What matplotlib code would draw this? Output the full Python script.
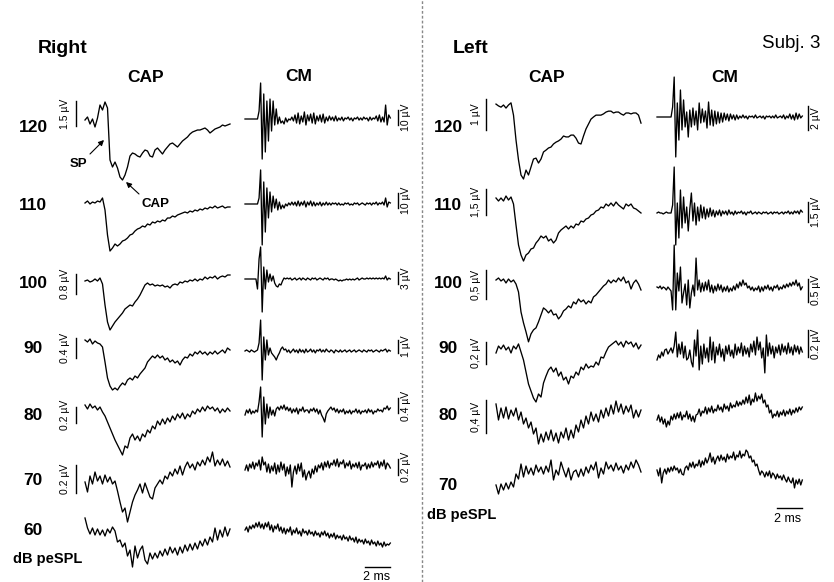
import numpy as np
import matplotlib
matplotlib.use('Agg')
import matplotlib.pyplot as plt
from matplotlib.lines import Line2D

plt.rcParams['font.family'] = ['Liberation Sans', 'DejaVu Sans']

# ---------------------------------------------------------------
# data (uV), CAP traces sampled every 0.2 ms, CM every 0.125 ms
levels_right = ['120', '110', '100', '90', '80', '70', '60']
levels_left = ['120', '110', '100', '90', '80', '70']

cap_r120 = [0, 0.18, -0.24, 0.06, -0.42, 0.12, 0.9, 0.6, 1.08, 0.72, -2.4, -2.82, -2.52, -2.88, -3.42, -3.6, -3.3, -2.82, -2.16, -1.98,
            -2.04, -2.16, -2.22, -1.98, -1.8, -1.86, -2.16, -2.22, -1.8, -1.68, -1.86, -2.04, -1.8, -1.62, -1.44, -1.38, -1.5, -1.62, -1.44, -1.26,
            -1.14, -1.02, -0.84, -0.72, -0.66, -0.6, -0.6, -0.54, -0.48, -0.6, -0.78, -0.66, -0.54, -0.48, -0.42, -0.3, -0.36, -0.3, -0.24]
cap_r110 = [0, 0.12, -0.06, 0.06, 0, 0.12, 0.06, 0.3, -0.42, -1.92, -2.88, -2.7, -2.46, -2.58, -2.46, -2.28, -2.22, -2.1, -1.92, -1.86,
            -1.68, -1.56, -1.5, -1.38, -1.44, -1.26, -1.32, -1.14, -1.2, -1.08, -1.14, -1.02, -1.08, -0.9, -0.9, -0.78, -0.84, -0.72, -0.66, -0.6,
            -0.54, -0.6, -0.48, -0.54, -0.42, -0.48, -0.36, -0.42, -0.3, -0.36, -0.24, -0.3, -0.18, -0.3, -0.24, -0.18, -0.3, -0.24, -0.24]
cap_r100 = [0, 0.04, -0.04, 0, 0.08, 0, 0.12, -0.12, -0.96, -1.64, -1.96, -1.8, -1.64, -1.52, -1.4, -1.28, -1.12, -1.04, -0.96, -1.0,
            -0.84, -0.72, -0.56, -0.36, -0.16, -0.08, -0.16, -0.12, -0.2, -0.16, -0.2, -0.16, -0.24, -0.2, -0.28, -0.16, -0.12, -0.16, -0.04, -0.08,
            0, -0.04, 0.04, 0, 0.08, 0, 0.08, 0.04, 0.16, 0.08, 0.16, 0.12, 0.2, 0.08, 0.16, 0.2, 0.16, 0.24, 0.24]
cap_r90 = [0.04, 0, 0.06, -0.04, 0.02, -0.02, -0.04, -0.1, -0.4, -0.72, -0.88, -0.96, -0.92, -0.96, -0.88, -0.82, -0.86, -0.76, -0.72, -0.76,
           -0.68, -0.72, -0.64, -0.58, -0.52, -0.4, -0.34, -0.28, -0.32, -0.26, -0.32, -0.28, -0.36, -0.32, -0.4, -0.36, -0.42, -0.38, -0.46, -0.36,
           -0.3, -0.32, -0.24, -0.28, -0.2, -0.24, -0.18, -0.24, -0.2, -0.26, -0.2, -0.24, -0.18, -0.24, -0.2, -0.16, -0.22, -0.12, -0.16]
cap_r80 = [0.024, -0.024, 0.036, -0.012, 0.012, -0.036, 0, -0.06, -0.108, -0.18, -0.252, -0.324, -0.396, -0.456, -0.516, -0.576, -0.468, -0.492, -0.372, -0.324,
           -0.396, -0.348, -0.408, -0.324, -0.36, -0.276, -0.312, -0.228, -0.264, -0.168, -0.216, -0.144, -0.204, -0.132, -0.18, -0.108, -0.156, -0.084, -0.132, -0.072,
           -0.144, -0.084, -0.12, -0.048, -0.084, -0.024, -0.06, 0, -0.048, 0.012, -0.024, 0, -0.048, -0.012, -0.072, -0.024, -0.06, -0.012, -0.048]
cap_r70 = [-0.014, -0.084, 0.028, -0.028, 0.056, -0.007, 0.028, -0.028, 0.035, -0.014, 0.021, -0.028, -0.007, -0.077, -0.154, -0.224, -0.196, -0.294, -0.224, -0.154,
           -0.105, -0.07, -0.028, -0.091, -0.021, -0.07, -0.119, -0.133, -0.056, -0.028, 0, -0.028, 0.028, 0.007, 0.056, 0.028, 0.077, 0.042, 0.098, 0.035,
           0.091, 0.126, 0.084, 0.112, 0.07, 0.126, 0.098, 0.14, 0.105, 0.161, 0.126, 0.196, 0.098, 0.14, 0.105, 0.147, 0.098, 0.133, 0.091]
cap_r60 = [0.084, 0.014, -0.028, 0.014, -0.035, 0.007, -0.035, 0, -0.042, 0.007, -0.021, 0.021, -0.007, -0.084, -0.07, -0.119, -0.091, -0.182, -0.14, -0.259,
           -0.112, -0.196, -0.14, -0.112, -0.21, -0.238, -0.161, -0.203, -0.161, -0.196, -0.147, -0.182, -0.133, -0.175, -0.119, -0.161, -0.126, -0.175, -0.119, -0.161,
           -0.105, -0.147, -0.098, -0.14, -0.091, -0.133, -0.077, -0.112, -0.063, -0.105, -0.049, -0.084, 0.014, -0.07, 0, -0.049, 0.021, -0.042, 0.007]

cm_r120 = [0, 0, 0, 0, 0, 0, 0, 0, 0, 5.3, 24.0, -26.7, 16.7, -22.0, 12.0, -14.7, 13.3, -8.0, 12.0, -4.0,
           6.7, -3.3, 1.3, -2.7, -1.3, -3.3, 0.7, -2.0, 0.0, -0.7, 1.3, -1.3, 2.7, -2.7, 4.0, -3.3, 2.0, -2.0, 4.7, -4.0,
           2.7, -1.3, 3.3, -2.7, 4.0, -3.3, 2.0, -1.3, 2.7, -2.0, 3.3, -2.7, 1.3, -1.3, 2.0, -0.7, 1.3, -1.3, 2.0, -1.3,
           0.7, -0.7, 1.3, -1.3, 0.7, 0.0, 1.3, -0.7, 0.7, -1.3, 0.7, 0.0, 1.3, -0.7, 0.7, -0.7, 1.3, 0.0, 0.7, -1.3,
           1.3, -0.7, 0.7, 0.0, 2.0, -1.3, 2.7, -2.0, 1.3, -2.0, 9.3, -4.0, 2.7, 0.7]
cm_r110 = [0, 0, 0, 0, 0, 0, 0, 0, 0, 4.0, 22.7, -27.3, 14.7, -18.7, 10.7, -9.3, 8.0, -5.3, 5.3, -2.7,
           3.3, -4.0, 1.3, -3.3, -0.7, -2.7, 0, -1.3, 0.7, -0.7, 1.3, -0.7, 1.3, -1.3, 2.0, -1.3, 1.3, -0.7, 2.0, -2.0,
           1.3, -0.7, 2.0, -1.3, 1.3, -1.3, 0.7, -0.7, 1.3, -1.3, 0.7, -0.7, 1.3, -0.7, 0.7, -0.7, 0.7, 0, 0.7, -0.7,
           0.7, -0.7, 0, -0.7, 0.7, 0, 0.7, -0.7, 0, -0.7, 0.7, 0, 0.7, -0.7, 0, 0.7, 0, -0.7, 0.7, 0,
           0.7, -0.7, 0.7, 0, 1.3, -0.7, 0.7, 0, 1.3, -0.7, 4.0, -2.0, 1.3, 0.7]
cm_r100 = [0, 0, 0, 0, 0, 0, 0, 0, -2.5, 5.0, 8.0, -8.25, 3.0, -2.5, 2.25, -0.75, 1.25, -0.5, 0.75, -1.0,
           -1.75, -2.0, -1.25, -1.5, -0.5, 0.25, 0, 0.25, 0, 0.25, -0.25, 0, 0.25, -0.25, 0, 0.25, -0.25, 0.25, 0, -0.25,
           0.25, 0, -0.25, 0.25, 0, 0.25, -0.25, 0, 0.25, 0, -0.25, 0.25, 0, 0.25, -0.25, 0, 0, -0.25, 0, -0.25,
           -0.5, -0.25, -0.5, -0.25, -0.25, 0, -0.25, 0, -0.25, 0, -0.25, 0, 0.25, -0.25, 0, 0.25, 0, 0, 0.25, 0,
           0.25, 0, 0.25, 0, 0.25, 0, 0.25, 0, 0.25, 0, 0.75, -0.25, 0.25, 0]
cm_r90 = [0, 0.08, 0, -0.08, 0.08, 0, -0.08, 0, 0.08, 0.62, 2.38, -2.23, 1.08, -0.69, 0.85, -0.31, 0.23, -0.15, -0.31, -0.46,
          -0.69, -0.38, -0.15, 0.15, 0.31, 0.08, 0.15, -0.08, 0.08, -0.15, 0, 0.15, -0.08, 0.08, -0.15, 0.15, -0.08, 0.08, -0.15, 0.15,
          -0.08, 0, 0.15, -0.08, 0.08, -0.15, 0.08, 0, 0.15, -0.08, 0.08, -0.08, 0.15, 0, -0.08, 0.08, 0, -0.15, 0.08, 0,
          -0.08, 0.08, -0.08, 0, 0.08, -0.08, 0, 0.08, -0.08, 0, 0.08, -0.08, 0, 0.08, 0, -0.08, 0.08, 0, -0.08, 0.08,
          0, 0.08, -0.08, 0, 0.08, 0, -0.08, 0.08, 0, 0.08, 0.15, -0.08, 0.08, 0]
cm_r80 = [-0.08, 0.053, -0.027, 0.08, -0.053, 0.027, -0.027, 0.053, 0, 0.267, 0.667, -0.667, 0.4, -0.32, 0.213, -0.16, 0.133, -0.08, 0.053, -0.107,
          0.08, 0.133, 0.053, 0.16, 0.08, 0.187, 0.053, 0.133, 0.027, 0.107, -0.027, 0.08, 0, 0.107, -0.053, 0.08, 0.027, 0.133, 0, 0.053,
          0.053, -0.027, 0.08, 0.027, 0.107, 0, 0.08, -0.053, 0.053, -0.08, -0.16, -0.267, -0.053, 0.027, 0.08, 0.133, 0.053, 0.107, 0, 0.08,
          -0.027, 0.053, 0, 0.08, -0.053, 0.027, -0.027, 0.053, -0.053, 0.027, 0, 0.08, -0.027, 0.053, -0.053, 0.027, 0, 0.053, -0.027, 0.08,
          0, 0.053, -0.053, 0.027, 0, 0.08, 0.027, 0.053, 0, 0.107, 0.08, 0.16, 0.053, 0.107]
cm_r70 = [-0.025, 0.038, -0.038, 0.05, 0, 0.075, -0.013, 0.063, 0.025, 0.1, -0.025, 0.138, 0.038, 0.075, -0.05, 0.05, -0.063, 0.025, -0.038, 0.063,
          -0.075, 0.038, -0.05, 0.075, -0.025, 0.05, -0.1, 0.013, -0.075, 0.038, -0.238, -0.05, 0.025, -0.075, 0.05, -0.038, 0.063, -0.113, -0.025, -0.15,
          -0.075, -0.038, -0.125, -0.013, -0.075, 0.025, -0.05, 0.038, 0, 0.063, -0.025, 0.075, 0.013, 0.088, 0, 0.063, 0.038, 0.1, 0.025, 0.113,
          0.013, 0.075, 0.05, 0.1, 0, 0.063, 0.025, 0.088, -0.013, 0.05, 0.013, 0.063, 0, 0.075, -0.025, 0.038, 0.025, 0.063, -0.013, 0.05,
          0, 0.075, 0.013, 0.063, 0.038, 0.088, 0, 0.075, 0.025, 0.1, -0.013, 0.063, 0.038, 0]
cm_r60 = [0, 0.038, -0.025, 0.05, 0.013, 0.063, 0.025, 0.088, 0.038, 0.1, 0.025, 0.075, 0.013, 0.088, 0.038, 0.1, 0, 0.063, -0.025, 0.05,
          0.013, 0.075, -0.013, 0.038, -0.038, 0.025, -0.05, 0.013, -0.025, 0.038, -0.063, 0, -0.038, 0.025, -0.05, -0.013, -0.075, 0.013, -0.038, -0.013,
          -0.063, 0, -0.05, -0.025, -0.075, -0.013, -0.063, -0.038, -0.088, -0.025, -0.063, -0.013, -0.075, -0.038, -0.1, -0.05, -0.088, -0.038, -0.113, -0.063,
          -0.1, -0.075, -0.125, -0.063, -0.113, -0.088, -0.138, -0.075, -0.125, -0.1, -0.15, -0.088, -0.163, -0.113, -0.15, -0.125, -0.175, -0.113, -0.163, -0.138,
          -0.188, -0.125, -0.175, -0.15, -0.2, -0.138, -0.188, -0.163, -0.213, -0.15, -0.2, -0.175, -0.188, -0.163]

cap_l120 = [0.03, -0.03, -0.07, 0, -0.1, 0, 0.07, -0.33, -1.14, -1.79, -2.28, -2.41, -2.12, -2.28, -2.02, -1.76, -1.73, -1.89, -1.76, -1.53,
            -1.47, -1.4, -1.37, -1.27, -1.21, -1.17, -1.11, -1.01, -1.04, -1.04, -0.98, -0.98, -1.08, -1.24, -1.27, -1.01, -0.78, -0.62, -0.46, -0.39,
            -0.33, -0.33, -0.33, -0.29, -0.23, -0.2, -0.2, -0.26, -0.23, -0.23, -0.29, -0.33, -0.26, -0.26, -0.29, -0.26, -0.26, -0.33, -0.59]
cap_l110 = [0.06, -0.12, 0.06, -0.12, 0.18, -0.06, 0.12, -0.3, -1.56, -2.76, -3.36, -3.72, -3.36, -3.24, -3.0, -2.94, -2.64, -2.46, -2.22, -2.34,
            -2.22, -2.52, -2.4, -2.64, -2.46, -2.04, -1.86, -1.74, -1.62, -1.8, -1.62, -1.74, -1.5, -1.56, -1.32, -1.38, -1.2, -1.14, -0.96, -0.9,
            -0.72, -0.66, -0.48, -0.54, -0.3, -0.42, -0.24, -0.42, -0.18, -0.36, -0.48, -0.6, -0.3, -0.42, -0.3, -0.54, -0.6, -0.72, -0.84]
cap_l100 = [0.017, 0.052, 0, 0.034, -0.034, 0.034, -0.017, 0.017, -0.052, -0.189, -0.534, -0.722, -0.877, -1.049, -0.912, -0.843, -0.808, -0.705, -0.585, -0.464,
            -0.499, -0.55, -0.499, -0.585, -0.568, -0.654, -0.602, -0.516, -0.482, -0.43, -0.464, -0.361, -0.396, -0.31, -0.361, -0.327, -0.396, -0.344, -0.378, -0.275,
            -0.241, -0.189, -0.138, -0.086, -0.052, 0.017, -0.034, 0.017, -0.017, 0.052, 0, 0.069, -0.034, 0, -0.138, -0.034, 0.017, -0.052, -0.155]
cap_l90 = [-0.027, 0.036, 0.009, 0.045, 0, 0.027, -0.027, 0.036, 0.009, 0.055, -0.018, -0.091, -0.2, -0.309, -0.373, -0.437, -0.473, -0.4, -0.428, -0.3,
           -0.237, -0.182, -0.155, -0.2, -0.164, -0.237, -0.2, -0.273, -0.246, -0.309, -0.237, -0.255, -0.2, -0.228, -0.155, -0.18, -0.127, -0.164, -0.145, -0.155,
           -0.109, -0.137, -0.064, -0.073, -0.018, 0.027, 0.046, 0.064, 0.082, 0.045, 0.073, 0.027, 0.082, 0.055, 0.073, 0.027, 0.064, 0.009, 0.045]
cap_l80 = [0.096, -0.096, 0.048, -0.072, 0.06, -0.084, 0.024, -0.048, 0.048, -0.096, 0, -0.144, -0.072, -0.192, -0.12, -0.264, -0.192, -0.384, -0.264, -0.36,
           -0.24, -0.336, -0.216, -0.348, -0.252, -0.372, -0.24, -0.312, -0.192, -0.336, -0.216, -0.312, -0.156, -0.24, -0.096, -0.192, -0.048, -0.144, 0, -0.108,
           -0.024, -0.12, 0.024, -0.072, 0.048, -0.048, 0.084, -0.024, 0.132, 0, 0.096, -0.024, 0.072, 0, 0.084, -0.072, 0.024, -0.06, 0.024]
cap_l70 = [-0.06, -0.168, -0.048, -0.12, -0.036, -0.108, -0.024, -0.084, 0.072, 0.012, 0.192, 0.036, 0.168, 0.072, 0.144, 0.06, 0.18, 0.096, 0.156, 0.072,
           0.168, 0.096, 0.24, 0, 0.12, 0.06, 0.216, 0.12, 0.036, 0.144, 0, 0.096, 0.12, 0.036, 0.132, 0.048, 0.156, 0.084, 0.18, 0.12,
           0.216, 0.024, 0.144, 0.072, 0.216, 0.132, 0.18, 0.108, 0.204, 0.12, 0.168, 0.084, 0.18, 0.12, 0.216, 0.144, 0.24, 0.18, 0.096]

cm_l120 = [0, 0, 0, 0, 0, 0, 0, 0, 0, 0, 0.83, 3.33, -3.33, 1.17, -1.92, 2.25, -1.08, 1.42, -0.83, 0.42,
           -1.67, 0.58, -0.83, 0.75, -0.67, 0.5, -1.08, 1.17, -0.5, 0.67, -0.42, 0.5, -0.92, 1.25, -0.67, 0.58, -0.75, 0.5, -0.58, 0.42,
           -0.5, 0.33, -0.42, 0.33, -0.25, 0.25, -0.33, 0.25, -0.17, 0.17, -0.25, 0.17, -0.17, 0.08, -0.08, 0.17, -0.08, 0.08, -0.17, 0.08,
           0, 0.08, -0.08, 0.17, -0.08, 0, 0.08, -0.08, 0.08, -0.17, 0.08, 0, 0.08, -0.08, 0.08, -0.08, 0.17, -0.08, 0, 0.08,
           -0.08, 0.17, -0.17, 0.08, -0.08, 0.25, -0.17, 0.17, -0.25, 0.33, -0.17, 0.25, -0.08, 0.08]
cm_l110 = [0, 0.075, 0, 0, -0.075, 0, 0.075, 0, 0, 0, 0.6, 3.45, -2.4, 0.75, -1.875, 1.725, -1.125, 1.2, -0.75, 0.45,
           -1.35, 0.3, 1.5, -0.6, 0.75, -0.9, 0.45, -0.6, 0.6, -0.375, 0.45, -0.45, 0.3, -0.3, 0.375, -0.225, 0.225, -0.3, 0.15, -0.15,
           0.225, -0.225, 0.15, -0.075, 0.15, -0.15, 0.225, -0.075, 0.075, -0.15, 0.15, -0.075, 0.075, 0, 0.15, -0.075, 0.075, -0.15, 0.075, 0,
           0.15, -0.075, 0, 0.075, -0.075, 0.075, 0, -0.075, 0.075, 0, 0.075, -0.075, 0, 0.075, -0.075, 0.075, 0, 0.075, -0.075, 0,
           0.075, -0.075, 0.075, 0, 0.15, -0.075, 0.075, -0.075, 0.15, 0, 0.15, -0.075, 0.225, 0.075]
cm_l100 = [0.022, 0, 0.043, -0.022, 0.022, 0, -0.043, 0.022, -0.022, -0.065, -0.477, 0.933, -0.477, 0.326, -0.065, 0.456, -0.326, -0.109, 0.087,
           -0.369, 0.174, -0.434, -0.109, 0.065, -0.174, 0.651, -0.043, 0.174, -0.087, 0.109, -0.065, 0.13, -0.043, 0.174, -0.087, 0.065, -0.109, 0.043, -0.065,
           0.087, -0.043, 0.065, -0.087, 0.022, -0.065, 0.043, -0.087, 0, -0.065, 0.043, -0.043, 0.087, 0, 0.13, 0.043, 0.174, 0.065, 0.109, 0,
           0.043, -0.043, 0.022, -0.065, 0, -0.043, 0.043, -0.087, 0.022, -0.065, 0.043, -0.022, 0.065, -0.043, 0.022, -0.065, 0.043, 0, 0.065, -0.043,
           0.022, -0.022, 0.065, 0, 0.087, 0.022, 0.109, 0.043, 0.13, 0.065, 0.174, 0.043, 0.109, -0.043, 0.022]
cm_l90 = [-0.059, -0.022, -0.044, 0, -0.03, 0.015, 0.022, -0.015, 0.007, 0.03, -0.007, 0.044, 0.148, -0.037, 0.059, -0.015, 0.074, -0.044, 0.044, -0.059,
          -0.044, 0.015, -0.074, -0.111, 0.089, -0.03, 0.163, -0.133, 0.044, -0.089, 0.059, -0.044, 0.03, -0.074, 0.111, -0.059, 0.074, -0.081, 0.037, -0.022,
          0.059, -0.037, 0.022, -0.067, 0.044, -0.015, 0.052, -0.03, 0.015, -0.044, 0.059, -0.022, 0.037, -0.007, 0.067, -0.03, 0.044, -0.015, 0.03, -0.037,
          0.059, 0, 0.081, -0.022, 0.111, 0.015, 0.074, -0.044, 0.03, -0.155, 0.126, -0.03, 0.067, -0.015, 0.044, -0.044, 0.037, -0.007, 0.052, -0.022,
          0.059, 0, 0.044, -0.015, 0.067, -0.007, 0.037, -0.022, 0.052, 0, 0.044, -0.015, 0.037, 0]
cm_l80 = [-0.022, 0.015, -0.037, 0, -0.052, -0.015, -0.074, -0.03, -0.059, 0.007, -0.022, 0.022, -0.015, 0.03, -0.007, 0.037, -0.022, 0.015, 0, 0.044,
          -0.015, 0.022, -0.03, 0.007, -0.037, 0.015, 0.022, 0.059, 0.007, 0.044, 0.03, 0.074, 0.022, 0.067, 0.037, 0.081, 0.03, 0.059, 0.044, 0.089,
          0.052, 0.074, 0.037, 0.096, 0.059, 0.081, 0.044, 0.104, 0.067, 0.089, 0.074, 0.118, 0.081, 0.111, 0.089, 0.126, 0.096, 0.148, 0.104, 0.163,
          0.089, 0.133, 0.111, 0.178, 0.118, 0.155, 0.133, 0.17, 0.104, 0.126, 0.074, 0.089, 0.03, 0.052, -0.007, 0.022, 0.007, 0.044, 0, 0.037,
          0.015, 0.052, 0.007, 0.044, 0.022, 0.059, 0.015, 0.052, 0.03, 0.067, 0.037, 0.074, 0.052, 0.074]
cm_l70 = [0, -0.044, 0.015, -0.096, -0.022, 0.007, -0.03, 0.015, -0.015, 0.022, -0.007, 0.03, 0, 0.015, -0.022, 0.007, -0.03, -0.037, 0.015, 0.03,
          0, 0.052, 0.022, 0.059, 0.015, 0.044, 0.03, 0.074, 0.022, 0.067, 0.037, 0.089, 0.052, 0.081, 0.126, 0.059, 0.096, 0.044, 0.081, 0.104,
          0.067, 0.111, 0.074, 0.096, 0.059, 0.118, 0.081, 0.104, 0.089, 0.133, 0.074, 0.111, 0.096, 0.141, 0.089, 0.118, 0.104, 0.148, 0.133, 0.089,
          0.104, 0.059, 0.074, 0.03, 0.044, 0, -0.037, -0.007, -0.022, -0.052, -0.015, -0.044, -0.007, -0.059, -0.022, -0.037, -0.067, -0.03, -0.059, -0.044,
          -0.074, -0.037, -0.067, -0.089, -0.052, -0.081, -0.096, -0.059, -0.133, -0.074, -0.104, -0.067, -0.111, -0.074]

# scale bar values (uV) and their labels, None = no bar
bars_cap_r = [(1.5, '1.5 µV'), None, (0.8, '0.8 µV'), (0.4, '0.4 µV'), (0.2, '0.2 µV'), (0.2, '0.2 µV'), None]
bars_cm_r = [(10, '10 µV'), (10, '10 µV'), (3, '3 µV'), (1, '1 µV'), (0.4, '0.4 µV'), (0.2, '0.2 µV'), None]
bars_cap_l = [(1, '1 µV'), (1.5, '1,5 µV'), (0.5, '0,5 µV'), (0.2, '0,2 µV'), (0.4, '0,4 µV'), None]
bars_cm_l = [(2, '2 µV'), (1.5, '1.5 µV'), (0.5, '0.5 µV'), (0.2, '0.2 µV'), None, None]

# ---------------------------------------------------------------
# layout (pixels of the 834x582 canvas)
W, H = 834, 582
PX_PER_MS = 12.5
CAP_DUR = 11.6
CM_DUR = 11.625

fig = plt.figure(figsize=(W / 100, H / 100), dpi=100)


def fig_text(x, y, s, **kw):
    fig.text(x / W, 1 - y / H, s, **kw)


def draw_trace(vals, x0, ybase, ppu, dur, bar=None, bar_y=None, bar_x=None, lab_x=None):
    half = 90
    ax = fig.add_axes([x0 / W, (H - ybase - half) / H, dur * PX_PER_MS / W, 2 * half / H])
    ax.set_xlim(0, dur)
    ax.set_ylim(-half / ppu, half / ppu)
    ax.axis('off')
    ax.patch.set_visible(False)
    t = np.linspace(0, dur, len(vals))
    ax.plot(t, vals, color='black', lw=0.95, clip_on=False)
    if bar is not None:
        val, lab = bar
        c = (ybase - bar_y) / ppu
        bx = (bar_x - x0) / PX_PER_MS
        ax.plot([bx, bx], [c - val / 2, c + val / 2], color='black', lw=1.0, clip_on=False)
        ax.text((lab_x - x0) / PX_PER_MS, c, lab, rotation=90, ha='center', va='center',
                fontsize=7.5, clip_on=False)
    return ax


# right ear
base_cap_r = [120, 203, 281, 342, 407, 480, 530]
ppu_cap_r = [16.67, 16.67, 25, 50, 83.3, 142.9, 142.9]
bary_cap_r = [113.5, None, 284, 348, 415, 479, None]
base_cm_r = [119, 204, 279, 351, 412, 468, 530]
ppu_cm_r = [1.5, 1.5, 4, 13, 37.5, 80, 80]
bary_cm_r = [117.5, 200.5, 278, 346.5, 405.5, 467, None]
caps_r = [cap_r120, cap_r110, cap_r100, cap_r90, cap_r80, cap_r70, cap_r60]
cms_r = [cm_r120, cm_r110, cm_r100, cm_r90, cm_r80, cm_r70, cm_r60]

for i in range(7):
    draw_trace(caps_r[i], 85, base_cap_r[i], ppu_cap_r[i], CAP_DUR,
               bars_cap_r[i], bary_cap_r[i], 76, 65)
    ax_cm_r = draw_trace(cms_r[i], 245, base_cm_r[i], ppu_cm_r[i], CM_DUR,
                         bars_cm_r[i], bary_cm_r[i], 398, 406)

# 2 ms time bar under the right CM column
ax_cm_r.plot([CM_DUR - 2, CM_DUR], [(530 - 567) / 80] * 2, color='black', lw=1.0, clip_on=False)
fig_text(377, 571, '2 ms', ha='center', va='top', fontsize=9)

# left ear
base_cap_l = [105, 199, 281, 350, 412, 480]
ppu_cap_l = [30.7, 16.67, 58, 110, 83.3, 83.3]
bary_cap_l = [114.5, 202, 284.5, 353, 416.5, None]
base_cm_l = [117, 213, 288, 352, 417, 470]
ppu_cm_l = [12, 13.33, 46, 135, 135, 135]
bary_cm_l = [118, 212, 290, 343.5, None, None]
caps_l = [cap_l120, cap_l110, cap_l100, cap_l90, cap_l80, cap_l70]
cms_l = [cm_l120, cm_l110, cm_l100, cm_l90, cm_l80, cm_l70]

for i in range(6):
    draw_trace(caps_l[i], 496, base_cap_l[i], ppu_cap_l[i], CAP_DUR,
               bars_cap_l[i], bary_cap_l[i], 486, 476)
    ax_cm_l = draw_trace(cms_l[i], 657, base_cm_l[i], ppu_cm_l[i], CM_DUR,
                         bars_cm_l[i], bary_cm_l[i], 808, 816)

ax_cm_l.plot([CM_DUR - 2, CM_DUR], [(470 - 508) / 135] * 2, color='black', lw=1.0, clip_on=False)
fig_text(788, 513, '2 ms', ha='center', va='top', fontsize=9)

# ---------------------------------------------------------------
# labels
fig_text(38, 53, 'Right', fontsize=14, fontweight='bold', va='baseline')
fig_text(146, 82, 'CAP', fontsize=12.5, fontweight='bold', ha='center', va='baseline')
fig_text(299, 81, 'CM', fontsize=12.5, fontweight='bold', ha='center', va='baseline')
fig_text(453, 53, 'Left', fontsize=14, fontweight='bold', va='baseline')
fig_text(547, 82, 'CAP', fontsize=12.5, fontweight='bold', ha='center', va='baseline')
fig_text(725, 82, 'CM', fontsize=12.5, fontweight='bold', ha='center', va='baseline')
fig_text(820, 48, 'Subj. 3', fontsize=13.5, ha='right', va='baseline')

rowy_r = [132, 210, 288, 353, 420, 485, 535]
for lab, y in zip(levels_right, rowy_r):
    fig_text(33, y, lab, fontsize=12.5, fontweight='bold', ha='center', va='baseline')
rowy_l = [132, 210, 288, 353, 420, 490]
for lab, y in zip(levels_left, rowy_l):
    fig_text(448, y, lab, fontsize=12.5, fontweight='bold', ha='center', va='baseline')

fig_text(13, 563, 'dB peSPL', fontsize=10.5, fontweight='bold', va='baseline')
fig_text(427, 519, 'dB peSPL', fontsize=10.5, fontweight='bold', va='baseline')

# SP / CAP arrows on the right 120 dB trace
fig_text(70, 167, 'SP', fontsize=9.5, fontweight='bold', va='baseline')
fig_text(142, 207, 'CAP', fontsize=9.5, fontweight='bold', va='baseline')
arrow = dict(arrowstyle='-|>', color='black', lw=0.8, mutation_scale=8, shrinkA=0, shrinkB=0)
fig.axes[0].annotate('', xy=(104, H - 140), xytext=(90, H - 154), xycoords='figure pixels',
                     textcoords='figure pixels', arrowprops=arrow)
fig.axes[0].annotate('', xy=(126, H - 182), xytext=(139, H - 194), xycoords='figure pixels',
                     textcoords='figure pixels', arrowprops=arrow)

# dotted divider between ears
fig.add_artist(Line2D([422 / W, 422 / W], [0, 1], transform=fig.transFigure,
                      color='#888888', lw=1.0, linestyle=(0, (2, 1.5))))

fig.savefig('out.png', dpi=100)
